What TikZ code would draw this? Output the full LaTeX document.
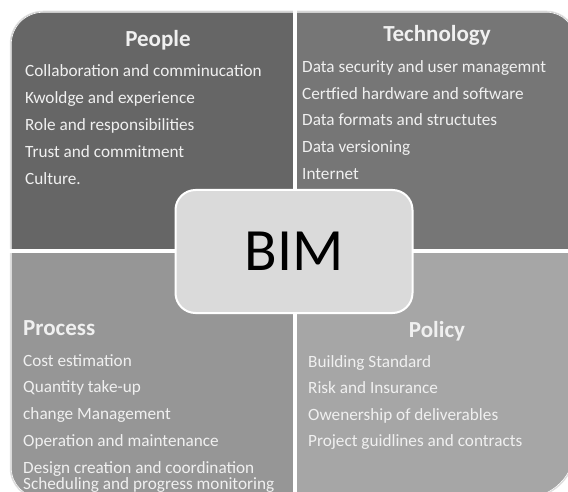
\documentclass[tikz,border=0pt]{standalone}
\usepackage{fontspec}
\setmainfont{Carlito}
\definecolor{peoplegray}{RGB}{102,102,102}
\definecolor{techgray}{RGB}{118,118,118}
\definecolor{procgray}{RGB}{150,150,150}
\definecolor{policygray}{RGB}{166,166,166}
\definecolor{bimgray}{RGB}{218,218,218}
\definecolor{itemwhite}{RGB}{240,240,240}
\begin{document}
\begin{tikzpicture}[x=1pt,y=-1pt,
	item/.style={text=itemwhite,inner sep=0pt,anchor=base west,font=\fontsize{17.2}{20}\selectfont},
	head/.style={text=itemwhite,inner sep=0pt,anchor=base,font=\fontsize{23}{27}\selectfont\bfseries}]
	\useasboundingbox (0,0) rectangle (568,492);
	\def\outline{(11,44) arc[start angle=180,end angle=270,radius=32] -- (547,12)
		arc[start angle=270,end angle=360,radius=28] -- (575,448)
		arc[start angle=0,end angle=90,radius=50] -- (41,498)
		arc[start angle=90,end angle=180,radius=30] -- cycle}
	\draw[gray!25,line width=2.5pt] \outline;
	\begin{scope}
	\clip \outline;
	\fill[peoplegray] (0,0) rectangle (295,251);
	\fill[techgray] (295,0) rectangle (580,251);
	\fill[procgray] (0,251) rectangle (295,500);
	\fill[policygray] (295,251) rectangle (580,500);
	\draw[white,line width=1.2pt] \outline;
	% lists
	\node[head] (people) at (158,47) {People};
	\foreach \t [count=\i] in {Collaboration and comminucation,Kwoldge and experience,
		Role and responsibilities,Trust and commitment,Culture.}
		\node[item] (p\i) at (25,{77+27*(\i-1)}) {\t};
	\node[head] (tech) at (437,42) {Technology};
	\foreach \t [count=\i] in {Data security and user managemnt,Certfied hardware and software,
		Data formats and structutes,Data versioning,Internet}
		\node[item] (t\i) at (302,{73+26.5*(\i-1)}) {\t};
	\node[head,anchor=base west] (process) at (23,335) {Process};
	\foreach \t [count=\i] in {Cost estimation,Quantity take-up,change Management,
		Operation and maintenance,Design creation and coordination}
		\node[item] (r\i) at (23,{366+26.8*(\i-1)}) {\t};
	\node[item] (r6) at (23,489.5) {Scheduling and progress monitoring};
	\node[head] (policy) at (437,337) {Policy};
	\foreach \t [count=\i] in {Building Standard,Risk and Insurance,
		Owenership of deliverables,Project guidlines and contracts}
		\node[item] (y\i) at (308,{367+26.5*(\i-1)}) {\t};
	\end{scope}
	\draw[white,line width=4pt] (295,0) -- (295,492) (0,251) -- (568,251);
	\node[fill=bimgray,draw=white,line width=2pt,rounded corners=20pt,
		minimum width=237pt,minimum height=123pt,
		font=\fontsize{60}{70}\selectfont] (bim) at (294,251.5) {BIM};
\end{tikzpicture}
\end{document}
